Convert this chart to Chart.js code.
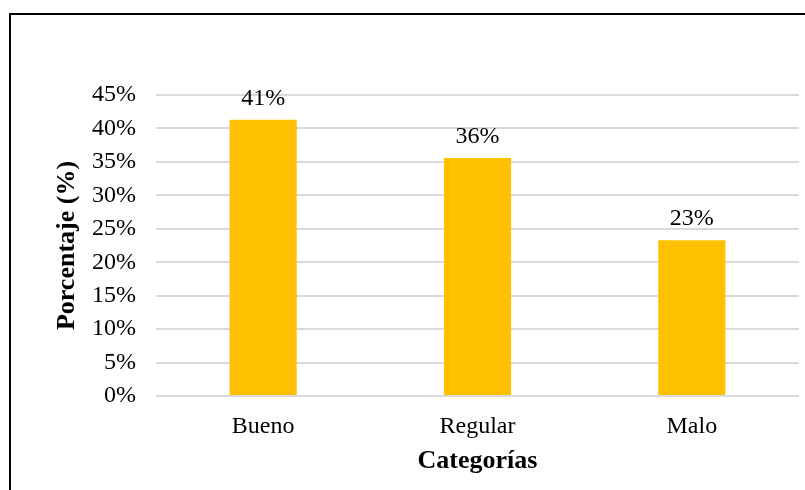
<!DOCTYPE html>
<html>
<head>
<meta charset="utf-8">
<script src="https://cdn.jsdelivr.net/npm/chart.js@4"></script>
<style>
  html, body { margin: 0; padding: 0; background: #fff; }
  #wrap { position: relative; width: 805px; height: 490px; overflow: hidden; }
  #frame { position: absolute; left: 9px; top: 13px; width: 900px; height: 600px;
           border: 2px solid #000; box-sizing: border-box; pointer-events: none; }
  canvas { position: absolute; left: 0; top: 0; }
</style>
</head>
<body>
<div id="wrap">
  <canvas id="chart" width="805" height="490"></canvas>
  <div id="frame"></div>
</div>
<script>
const categories = ['Bueno', 'Regular', 'Malo'];
const percentages = [41.3, 35.6, 23.3];
const yTicks = [0, 5, 10, 15, 20, 25, 30, 35, 40, 45];

const serif = '"Liberation Serif", "Times New Roman", serif';
const fontSize = 24;
const titleSize = 26;

// etiquetas de valor encima de cada barra
const barLabels = {
  id: 'barLabels',
  afterDatasetsDraw(chart) {
    const ctx = chart.ctx;
    const meta = chart.getDatasetMeta(0);
    ctx.save();
    ctx.font = fontSize + 'px ' + serif;
    ctx.fillStyle = '#000';
    ctx.textAlign = 'center';
    ctx.textBaseline = 'alphabetic';
    meta.data.forEach((bar, i) => {
      ctx.fillText(Math.round(percentages[i]) + '%', bar.x, bar.y - 15);
    });
    ctx.restore();
  }
};

new Chart(document.getElementById('chart').getContext('2d'), {
  type: 'bar',
  data: {
    labels: categories,
    datasets: [{
      data: percentages,
      backgroundColor: '#FFC000',
      barPercentage: 0.313,
      categoryPercentage: 1
    }]
  },
  options: {
    responsive: false,
    animation: false,
    layout: { padding: { top: 95, right: 6, bottom: 13, left: 0 } },
    plugins: { legend: { display: false }, tooltip: { enabled: false } },
    scales: {
      x: {
        afterFit(scale) { scale.height = 81; },
        grid: { display: false },
        border: { display: false },
        ticks: { color: '#000', font: { family: serif, size: fontSize }, padding: 8 },
        title: {
          display: true, text: 'Categorías', color: '#000',
          font: { family: serif, size: titleSize, weight: 'bold' }, padding: { top: 0, bottom: 0 }
        }
      },
      y: {
        min: 0, max: 45,
        afterFit(scale) { scale.width = 156; },
        afterBuildTicks(scale) { scale.ticks = yTicks.map(v => ({ value: v })); },
        grid: { color: '#d9d9d9', lineWidth: 2, drawTicks: false },
        border: { display: false },
        ticks: {
          color: '#000', font: { family: serif, size: fontSize }, padding: 20,
          autoSkip: false,
          callback: v => v + '%'
        },
        title: {
          display: true, text: 'Porcentaje (%)', color: '#000',
          font: { family: serif, size: titleSize, weight: 'bold' }, padding: { top: 52, bottom: 0 }
        }
      }
    }
  },
  plugins: [barLabels]
});
</script>
</body>
</html>
